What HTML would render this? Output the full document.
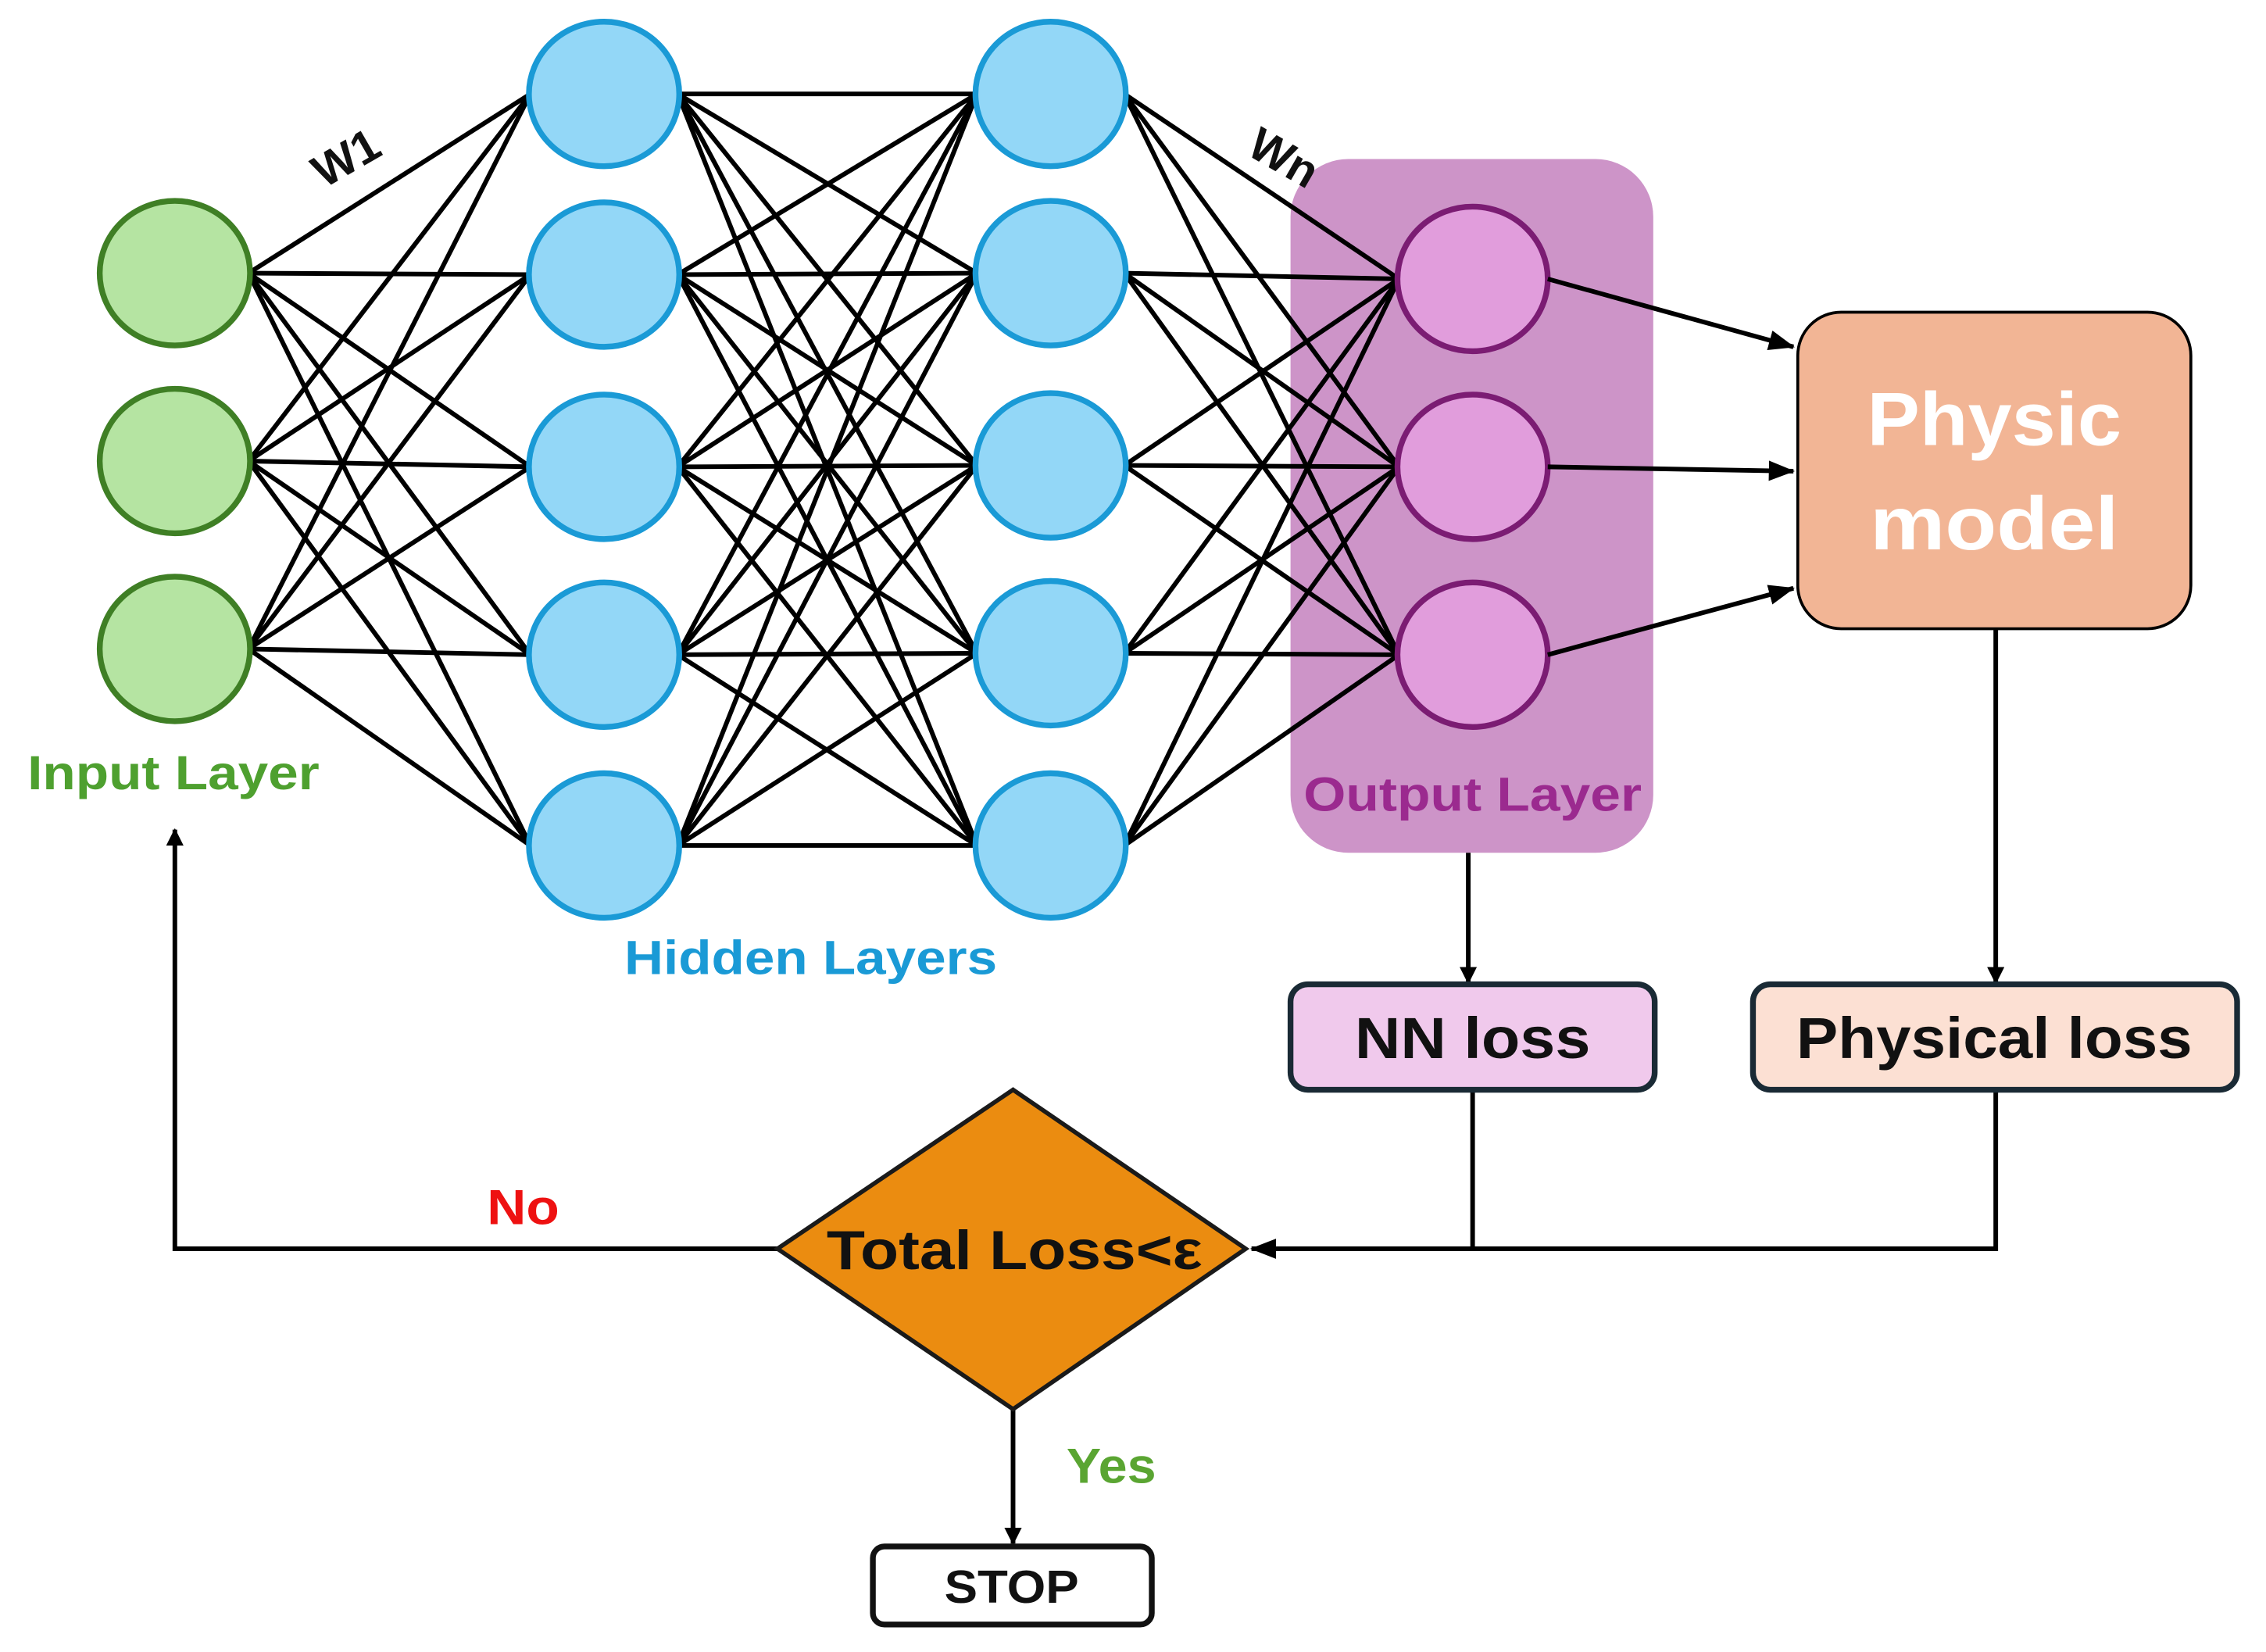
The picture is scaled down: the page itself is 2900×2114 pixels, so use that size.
<!DOCTYPE html>
<html><head><meta charset="utf-8"><style>
html,body{margin:0;padding:0;background:#fff;}
svg{display:block;}
text{font-family:"Liberation Sans","DejaVu Sans",sans-serif;font-weight:bold;}
</style></head><body>
<svg width="2900" height="2114" viewBox="0 0 1568 1143" preserveAspectRatio="none" xmlns="http://www.w3.org/2000/svg">
<defs>
<marker id="ah" markerWidth="12" markerHeight="12" refX="11" refY="6" orient="auto" markerUnits="userSpaceOnUse">
<path d="M0,0 L12,6 L0,12 z" fill="#000"/>
</marker>
<marker id="ah2" markerWidth="18" markerHeight="14" refX="17" refY="7" orient="auto" markerUnits="userSpaceOnUse">
<path d="M0,0 L18,7 L0,14 z" fill="#000"/>
</marker>
</defs>
<rect x="893" y="110" width="251" height="480" rx="40" fill="#cd94c8"/>
<g id="lines" stroke="#000" stroke-width="3.2" fill="none"></g>
<rect x="1244" y="216" width="272" height="219" rx="30" fill="#f2b595" stroke="#000" stroke-width="2"/>
<text x="1380" y="308" font-size="52" fill="#fff" text-anchor="middle" textLength="176" lengthAdjust="spacingAndGlyphs">Physic</text>
<text x="1380" y="380" font-size="52" fill="#fff" text-anchor="middle" textLength="172" lengthAdjust="spacingAndGlyphs">model</text>
<g id="nodes"></g>
<text x="120" y="546" font-size="33" fill="#4ea02f" text-anchor="middle" textLength="202" lengthAdjust="spacingAndGlyphs">Input Layer</text>
<text x="561" y="674" font-size="33" fill="#1a9ad6" text-anchor="middle" textLength="258" lengthAdjust="spacingAndGlyphs">Hidden Layers</text>
<text x="1019" y="561" font-size="33" fill="#9b2a8f" text-anchor="middle" textLength="234" lengthAdjust="spacingAndGlyphs">Output Layer</text>
<text x="240" y="120" font-size="32" fill="#111" text-anchor="middle" transform="rotate(-30 240 110)">W1</text>
<text x="888" y="120" font-size="32" fill="#111" text-anchor="middle" transform="rotate(30 888 110)">Wn</text>
<g stroke="#000" stroke-width="3.2" fill="none">
<line x1="1071" y1="193" x2="1241" y2="240" marker-end="url(#ah2)"/>
<line x1="1071" y1="323" x2="1241" y2="326" marker-end="url(#ah2)"/>
<line x1="1071" y1="453" x2="1241" y2="407" marker-end="url(#ah2)"/>
<line x1="1016" y1="590" x2="1016" y2="680" marker-end="url(#ah)"/>
<line x1="1381" y1="435" x2="1381" y2="680" marker-end="url(#ah)"/>
<polyline points="1019,754 1019,864"/>
<polyline points="1381,754 1381,864 866,864" marker-end="url(#ah2)"/>
<polyline points="538,864 121,864 121,574" marker-end="url(#ah)"/>
<line x1="701" y1="975" x2="701" y2="1068" marker-end="url(#ah)"/>
</g>
<rect x="893" y="681" width="252" height="73" rx="12" fill="#f0c9ec" stroke="#1a2a35" stroke-width="4"/>
<text x="1019" y="732" font-size="40" fill="#111" text-anchor="middle" textLength="163" lengthAdjust="spacingAndGlyphs">NN loss</text>
<rect x="1213" y="681" width="335" height="73" rx="12" fill="#fce0d3" stroke="#1a2a35" stroke-width="4"/>
<text x="1380" y="732" font-size="40" fill="#111" text-anchor="middle" textLength="274" lengthAdjust="spacingAndGlyphs">Physical loss</text>
<polygon points="538,864 701,754 862,864 701,975" fill="#eb8c10" stroke="#1a1a1a" stroke-width="3"/>
<text x="702" y="878" font-size="38" fill="#111" text-anchor="middle" textLength="260" lengthAdjust="spacingAndGlyphs">Total Loss&lt;ε</text>
<text x="362" y="847" font-size="34" fill="#ee1111" text-anchor="middle" textLength="50" lengthAdjust="spacingAndGlyphs">No</text>
<text x="769" y="1026" font-size="34" fill="#5aa532" text-anchor="middle" textLength="62" lengthAdjust="spacingAndGlyphs">Yes</text>
<rect x="604" y="1070" width="193" height="54" rx="8" fill="#fff" stroke="#111" stroke-width="4"/>
<text x="700" y="1109" font-size="32" fill="#111" text-anchor="middle" textLength="93" lengthAdjust="spacingAndGlyphs">STOP</text>
<script>
var ns="http://www.w3.org/2000/svg";
var L=[{x:121,ys:[189,319,449],f:"#b5e4a2",s:"#3f7f25"},
{x:418,ys:[65,190,323,453,585],f:"#93d7f7",s:"#1a9ad6"},
{x:727,ys:[65,189,322,452,585],f:"#93d7f7",s:"#1a9ad6"},
{x:1019,ys:[193,323,453],f:"#e19ddc",s:"#7b1c73"}];
var lg=document.getElementById("lines"),ng=document.getElementById("nodes");
for(var i=0;i<3;i++){for(var a of L[i].ys)for(var b of L[i+1].ys){var l=document.createElementNS(ns,"line");l.setAttribute("x1",L[i].x+51);l.setAttribute("y1",a);l.setAttribute("x2",L[i+1].x-51);l.setAttribute("y2",b);lg.appendChild(l);}}
for(var k of L)for(var y of k.ys){var e=document.createElementNS(ns,"ellipse");e.setAttribute("cx",k.x);e.setAttribute("cy",y);e.setAttribute("rx",52);e.setAttribute("ry",50);e.setAttribute("fill",k.f);e.setAttribute("stroke",k.s);e.setAttribute("stroke-width",4);ng.appendChild(e);}
</script>
</svg>
</body></html>
